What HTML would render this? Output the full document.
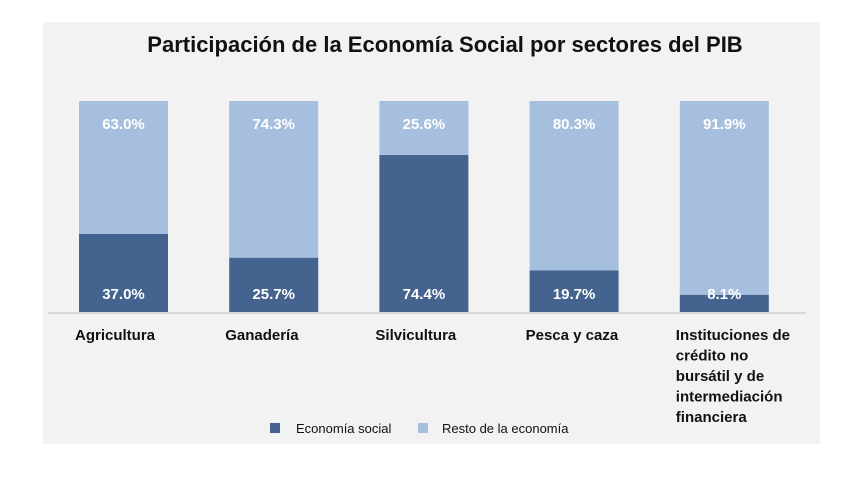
<!DOCTYPE html>
<html><head><meta charset="utf-8"><style>
body{margin:0;width:858px;height:480px;background:#fff;font-family:"Liberation Sans",Arial,sans-serif;}
svg{display:block}
</style></head><body>
<svg width="858" height="480">
<rect x="43" y="22" width="777" height="422" fill="#f2f2f2"/>
<text x="445" y="52" text-anchor="middle" font-size="22" font-weight="bold" fill="#111">Participación de la Economía Social por sectores del PIB</text>
<line x1="48" y1="313" x2="806" y2="313" stroke="#d0d0d0" stroke-width="1.5"/>
<g id="bars"></g>
<g id="labels"></g>
<rect x="270" y="423" width="10" height="10" fill="#44638f"/>
<text x="296" y="433" font-size="13" fill="#111">Economía social</text>
<rect x="418" y="423" width="10" height="10" fill="#a7bfdf"/>
<text x="442" y="433" font-size="13" fill="#111">Resto  de la economía</text>
</svg>
<script>
const categories=[["Agricultura"],["Ganadería"],["Silvicultura"],["Pesca y caza"],["Instituciones de","crédito no","bursátil y de","intermediación","financiera"]];
const socialValues=[37.0,25.7,74.4,19.7,8.1];
const restoValues=[63.0,74.3,25.6,80.3,91.9];
const NS="http://www.w3.org/2000/svg";
const top0=101,bottom0=312,left0=79,step=150.2,bw=89;
const y=v=>bottom0-(v/100)*(bottom0-top0);
const xb=i=>left0+i*step;
const bars=document.getElementById('bars'),labels=document.getElementById('labels');
function mk(tag,attrs,parent){const e=document.createElementNS(NS,tag);for(const k in attrs)e.setAttribute(k,attrs[k]);parent.appendChild(e);return e;}
categories.forEach((c,i)=>{
  const s=socialValues[i],r=restoValues[i],x=xb(i);
  const rb=mk('rect',{x:x,y:y(s+r),width:bw,height:y(s)-y(s+r),fill:'#a7bfdf'},bars);
  
  
  const sb=mk('rect',{x:x,y:y(s),width:bw,height:bottom0-y(s),fill:'#44638f'},bars);
  
  
  const t1=mk('text',{x:x+bw/2,y:y(s+r)+28,'text-anchor':'middle','font-size':'15','font-weight':'bold',fill:'#fff'},labels);
  t1.textContent=r.toFixed(1)+'%';
  
  
  const t2=mk('text',{x:x+bw/2,y:bottom0-13,'text-anchor':'middle','font-size':'15','font-weight':'bold',fill:'#fff'},labels);
  t2.textContent=s.toFixed(1)+'%';
  
  
  c.forEach((line,j)=>{
    const tl=mk('text',{x:x-4,y:340+j*20.5,'font-size':'15','font-weight':'bold',fill:'#111'},labels);
    tl.textContent=line;
    
    
  });
});
</script>
</body></html>
